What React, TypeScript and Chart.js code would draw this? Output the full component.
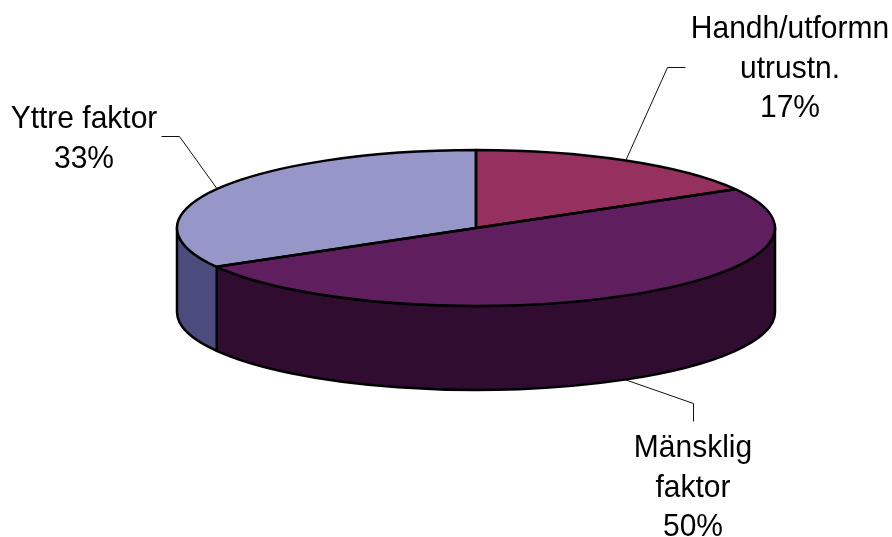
import React, { useEffect, useRef } from "react";
import { Chart, registerables } from "chart.js";

Chart.register(...registerables);

const categories = ["Handh/utformn utrustn.", "Mänsklig faktor", "Yttre faktor"];
const labelLines = [["Handh/utformn", "utrustn."], ["Mänsklig", "faktor"], ["Yttre faktor"]];
const values = [16.7, 50, 33.3];
const topColors = ["#96305f", "#5f1f5f", "#9696c8"];
const wallColors = ["#4b1830", "#300c30", "#4b4b7d"];

const W = 892;
const H = 537;
const CX = 476;
const CY = 228;
const RX = 299;
const RY = 78;
const R = 150;
const DEPTH = 84;
const OUTLINE = 2.5;
const TEXT_STRETCH = 1.07;

const leaderGeom = [
  { elbow: [667, 67], end: [685, 67], textX: 790, baseline: 38, wall: false },
  { elbow: [693, 403], end: [693, 421], textX: 693, baseline: 457, wall: true },
  { elbow: [179, 136], end: [161, 136], textX: 84, baseline: 128, wall: false },
];

const pie3d = {
  id: "pie3d",
  beforeDatasetsDraw(chart: any) {
    const ctx = chart.ctx;
    const arcs = chart.getDatasetMeta(0).data;
    arcs.forEach((arc: any, i: number) => {
      const a = Math.max(arc.startAngle, 0);
      const b = Math.min(arc.endAngle, Math.PI);
      if (b <= a) return;
      ctx.save();
      ctx.beginPath();
      ctx.ellipse(arc.x, arc.y, RX, RY, 0, a, b);
      ctx.ellipse(arc.x, arc.y + DEPTH, RX, RY, 0, b, a, true);
      ctx.closePath();
      ctx.fillStyle = wallColors[i];
      ctx.fill();
      ctx.lineWidth = OUTLINE;
      ctx.strokeStyle = "#000";
      ctx.lineJoin = "round";
      ctx.stroke();
      ctx.restore();
    });
    const first = arcs[0];
    ctx.save();
    ctx.translate(first.x, first.y);
    ctx.scale(RX / R, RY / R);
    ctx.translate(-first.x, -first.y);
  },
  afterDatasetsDraw(chart: any) {
    const ctx = chart.ctx;
    ctx.restore();
    const arcs = chart.getDatasetMeta(0).data;
    const total = values.reduce((s, v) => s + v, 0);
    arcs.forEach((arc: any) => {
      ctx.save();
      ctx.beginPath();
      ctx.moveTo(arc.x, arc.y);
      ctx.ellipse(arc.x, arc.y, RX, RY, 0, arc.startAngle, arc.endAngle);
      ctx.closePath();
      ctx.lineWidth = OUTLINE;
      ctx.strokeStyle = "#000";
      ctx.lineJoin = "round";
      ctx.stroke();
      ctx.restore();
    });
    arcs.forEach((arc: any, i: number) => {
      const g = leaderGeom[i];
      const mid = (arc.startAngle + arc.endAngle) / 2;
      const ax = arc.x + RX * Math.cos(mid);
      const ay = arc.y + RY * Math.sin(mid) + (g.wall ? DEPTH : 0);
      ctx.save();
      ctx.beginPath();
      ctx.moveTo(ax, ay);
      ctx.lineTo(g.elbow[0] + 0.5, g.elbow[1] + 0.5);
      ctx.lineTo(g.end[0] + 0.5, g.end[1] + 0.5);
      ctx.lineWidth = 1;
      ctx.strokeStyle = "#111";
      ctx.stroke();
      ctx.font = '30px "Liberation Sans", Arial, sans-serif';
      ctx.fillStyle = "#000";
      ctx.textAlign = "center";
      ctx.textBaseline = "alphabetic";
      const lines = [...labelLines[i], Math.round((values[i] / total) * 100) + "%"];
      lines.forEach((t, k) => {
        ctx.save();
        ctx.translate(g.textX, g.baseline + k * 39.5);
        ctx.scale(1, TEXT_STRETCH);
        ctx.fillText(t, 0, 0);
        ctx.restore();
      });
      ctx.restore();
    });
  },
};

export default function App() {
  const ref = useRef<HTMLCanvasElement>(null);
  useEffect(() => {
    const chart = new Chart(ref.current as HTMLCanvasElement, {
      type: "pie",
      data: {
        labels: categories,
        datasets: [
          {
            data: values,
            backgroundColor: topColors,
            borderWidth: 0,
            clip: false,
          } as any,
        ],
      },
      options: {
        responsive: false,
        animation: false,
        radius: R,
        layout: { padding: { left: 2 * CX - W, right: 0, top: 0, bottom: H - 2 * CY } },
        plugins: { legend: { display: false }, tooltip: { enabled: false } },
      } as any,
      plugins: [pie3d],
    });
    return () => chart.destroy();
  }, []);
  return (
    <div style={{ position: "absolute", left: 0, top: 0, width: W, height: H, background: "#fff" }}>
      <canvas ref={ref} width={W} height={H} style={{ display: "block" }} />
    </div>
  );
}
